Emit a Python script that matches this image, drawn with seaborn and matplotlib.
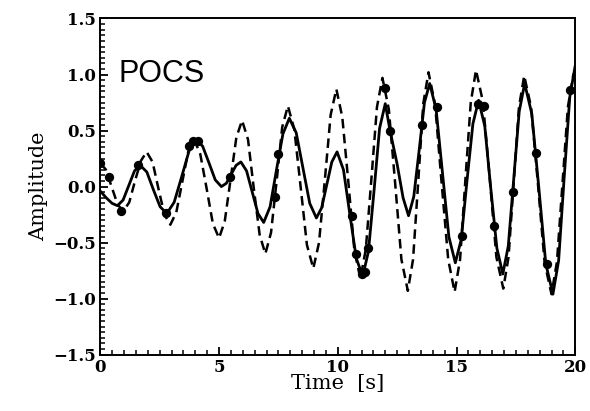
import numpy as np
import pandas as pd
import matplotlib
matplotlib.use("Agg")
import matplotlib.pyplot as plt
from matplotlib.ticker import MultipleLocator
import seaborn as sns

# True signal (dashed)
true_t = [0.0, 0.24, 0.49, 0.73, 0.97, 1.22, 1.46, 1.71, 1.95, 2.2, 2.45, 2.7, 2.95,
          3.2, 3.45, 3.7, 3.95, 4.21, 4.48, 4.74, 5.0, 5.24, 5.49, 5.73, 5.97,
          6.22, 6.46, 6.71, 6.95, 7.19, 7.43, 7.66, 7.9, 8.17, 8.44, 8.7, 8.97,
          9.21, 9.46, 9.7, 9.94, 10.19, 10.45, 10.7, 10.95, 11.18, 11.42, 11.65, 11.88,
          12.15, 12.42, 12.68, 12.95, 13.17, 13.39, 13.6, 13.82, 14.1, 14.37, 14.65, 14.92,
          15.15, 15.37, 15.6, 15.82, 16.11, 16.4, 16.68, 16.97, 17.19, 17.41, 17.63, 17.85,
          18.14, 18.43, 18.71, 19.0, 19.23, 19.46, 19.69, 19.92, 20.0]
true_a = [0.21, 0.15, -0.01, -0.16, -0.22, -0.14, 0.05, 0.23, 0.31, 0.22, -0.02, -0.25, -0.34,
          -0.23, 0.04, 0.31, 0.42, 0.29, -0.02, -0.33, -0.46, -0.31, 0.07, 0.44, 0.59,
          0.42, -0.01, -0.43, -0.60, -0.41, 0.06, 0.53, 0.72, 0.51, -0.01, -0.52, -0.73,
          -0.50, 0.07, 0.64, 0.87, 0.62, 0.03, -0.57, -0.82, -0.56, 0.08, 0.71, 0.97,
          0.69, 0.02, -0.65, -0.93, -0.65, 0.05, 0.74, 1.02, 0.73, 0.04, -0.65, -0.94,
          -0.65, 0.05, 0.75, 1.04, 0.76, 0.07, -0.63, -0.91, -0.63, 0.04, 0.71, 0.99,
          0.71, 0.02, -0.68, -0.96, -0.67, 0.02, 0.71, 1.00, 0.99]

# POCS reconstruction (solid)
pocs_t = [0.0, 0.25, 0.5, 0.72, 0.96, 1.2, 1.44, 1.68, 1.96, 2.24, 2.52, 2.8,
          3.11, 3.43, 3.74, 4.05, 4.31, 4.58, 4.84, 5.1, 5.31, 5.51, 5.72, 5.92,
          6.16, 6.4, 6.64, 6.88, 7.15, 7.42, 7.69, 7.96, 8.25, 8.53, 8.82, 9.1,
          9.32, 9.54, 9.75, 9.97, 10.24, 10.51, 10.78, 11.05, 11.29, 11.53, 11.76, 12.0,
          12.2, 12.5, 12.75, 12.98, 13.2, 13.43, 13.65, 13.87, 14.14, 14.41, 14.68, 14.95,
          15.2, 15.44, 15.69, 15.93, 16.19, 16.44, 16.7, 16.95, 17.18, 17.41, 17.64, 17.87,
          18.17, 18.47, 18.76, 19.06, 19.3, 19.53, 19.77, 20.0]
pocs_a = [-0.04, -0.10, -0.15, -0.17, -0.12, 0.01, 0.14, 0.19, 0.13, -0.03, -0.18, -0.24,
          -0.14, 0.09, 0.32, 0.42, 0.36, 0.21, 0.06, 0.00, 0.03, 0.11, 0.19, 0.22,
          0.14, -0.05, -0.24, -0.32, -0.18, 0.15, 0.47, 0.61, 0.48, 0.17, -0.15, -0.28,
          -0.19, 0.02, 0.22, 0.31, 0.15, -0.25, -0.64, -0.80, -0.58, -0.03, 0.52, 0.74,
          0.50, 0.20, -0.10, -0.26, -0.09, 0.33, 0.75, 0.92, 0.69, 0.12, -0.45, -0.68,
          -0.47, 0.05, 0.56, 0.77, 0.54, -0.01, -0.55, -0.78, -0.53, 0.07, 0.67, 0.92,
          0.65, -0.02, -0.69, -0.96, -0.66, 0.07, 0.80, 1.08]

# Irregular samples (dots)
samp_t = [0.0, 0.36, 0.87, 1.6, 2.76, 3.72, 3.92, 4.1, 5.48, 7.35, 7.5, 10.6, 10.75,
          11.02, 11.13, 11.27, 12.0, 12.2, 13.55, 14.17, 15.25, 15.9, 16.14, 16.58,
          17.38, 18.34, 18.82, 19.77]
samp_a = [0.21, 0.09, -0.22, 0.19, -0.24, 0.36, 0.41, 0.41, 0.09, -0.09, 0.29, -0.26, -0.60,
          -0.78, -0.76, -0.55, 0.88, 0.50, 0.55, 0.71, -0.44, 0.74, 0.72, -0.35,
          -0.05, 0.30, -0.69, 0.86]

x_major = [0, 5, 10, 15, 20]
y_major = [-1.5, -1.0, -0.5, 0.0, 0.5, 1.0, 1.5]

sns.set_theme(style="ticks")
plt.rcParams["font.family"] = ["DejaVu Serif"]
for k in ["text.color", "axes.labelcolor", "xtick.color", "ytick.color", "axes.edgecolor"]:
    plt.rcParams[k] = "black"

df_true = pd.DataFrame({"t": true_t, "a": true_a})
df_pocs = pd.DataFrame({"t": pocs_t, "a": pocs_a})
df_samp = pd.DataFrame({"t": samp_t, "a": samp_a})

fig = plt.figure(figsize=(5.9, 4.11), dpi=100)
ax = fig.add_axes([0.170, 0.137, 0.805, 0.818])

sns.lineplot(data=df_true, x="t", y="a", ax=ax, color="black", lw=1.8,
             linestyle=(0, (3.8, 2.2)), sort=False)
sns.lineplot(data=df_pocs, x="t", y="a", ax=ax, color="black", lw=2.0, sort=False,
             solid_joinstyle="round")
sns.scatterplot(data=df_samp, x="t", y="a", ax=ax, color="black", s=45,
                edgecolor="black", linewidth=0, zorder=5)

ax.set_xlim(0, 20)
ax.set_ylim(-1.5, 1.5)
ax.set_xticks(x_major)
ax.set_yticks(y_major)
ax.set_xticklabels([str(v) for v in x_major])
ax.set_yticklabels([f"{v:.1f}".replace("-", "\u2212") for v in y_major])
ax.xaxis.set_minor_locator(MultipleLocator(0.5))
ax.yaxis.set_minor_locator(MultipleLocator(0.05))
ax.tick_params(which="major", direction="in", length=6, width=1.3, labelsize=12,
               top=False, right=False, pad=3)
ax.tick_params(which="minor", direction="in", length=3.5, width=1.1,
               top=False, right=False)
for lab in ax.get_xticklabels() + ax.get_yticklabels():
    lab.set_fontweight("bold")
for sp in ax.spines.values():
    sp.set_visible(True)
    sp.set_linewidth(1.4)
    sp.set_color("black")

ax.set_xlabel("Time  [s]", fontsize=15, labelpad=-1)
ax.set_ylabel("Amplitude", fontsize=15, labelpad=4)
ax.text(0.75, 0.93, "POCS", fontsize=22, family=["Liberation Sans"],
        ha="left", va="baseline")

fig.savefig("out.png", dpi=100, facecolor="white")
